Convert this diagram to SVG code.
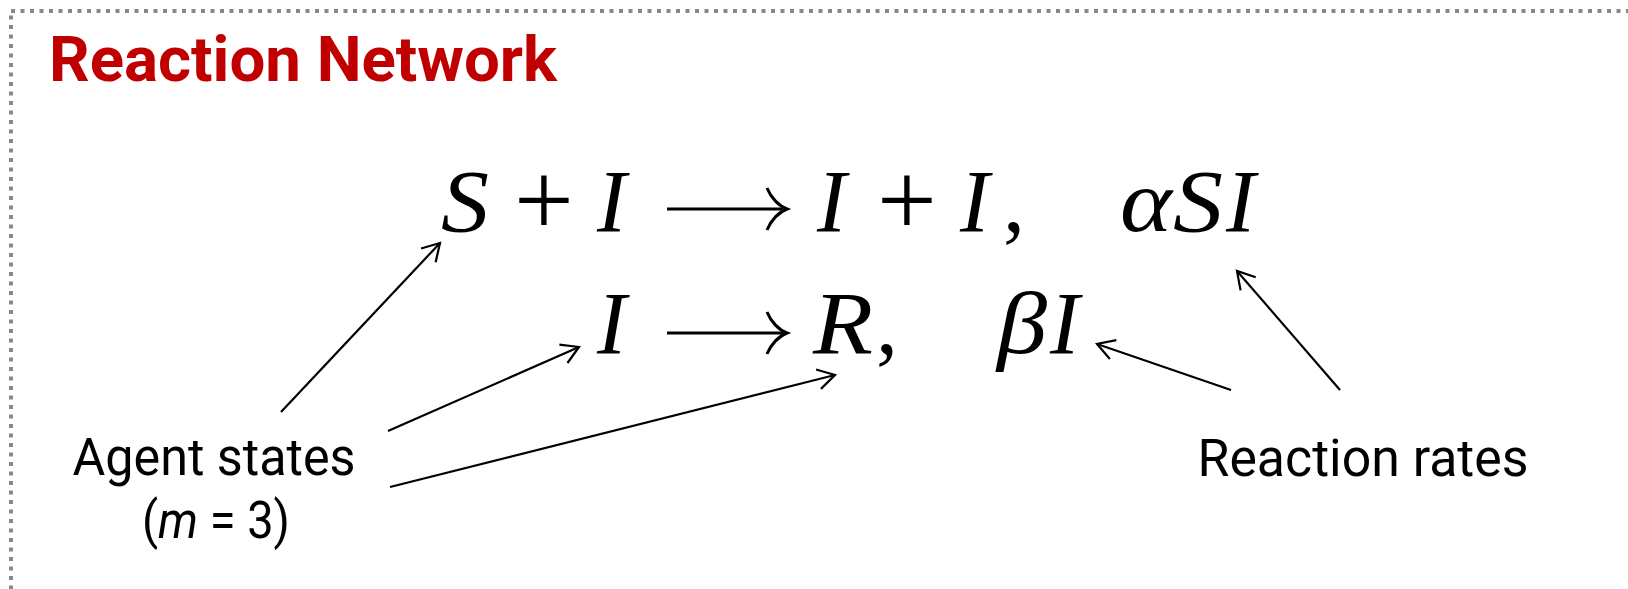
<svg xmlns="http://www.w3.org/2000/svg" width="1628" height="589" viewBox="0 0 1628 589">
  <style>
    .title { font-family: Roboto, "Liberation Sans", sans-serif; font-weight: 700; font-size: 63px; fill: #c00000; }
    .label { font-family: Roboto, "Liberation Sans", sans-serif; font-size: 51px; fill: #000; }
    .mi { font-family: "Liberation Serif", "DejaVu Serif", serif; font-style: italic; font-size: 88px; fill: #000; }
    .mo { font-family: "Liberation Serif", "DejaVu Serif", serif; font-size: 88px; fill: #000; }
    .plus { font-family: "Liberation Serif", "DejaVu Serif", serif; font-size: 106px; fill: #000; text-anchor: middle; }
    .conn { stroke: #000; stroke-width: 2.2; fill: none; }
    .larrow { stroke: #000; stroke-width: 3; fill: none; stroke-linecap: butt; }
  </style>
  <defs>
    <marker id="open" markerUnits="userSpaceOnUse" markerWidth="24" markerHeight="24" viewBox="-20 -12 24 24" refX="0" refY="0" orient="auto">
      <path d="M-17,-10 L0,0 L-17,10" fill="none" stroke="#000" stroke-width="2.2"/>
    </marker>
  </defs>

  <rect id="frame" x="11" y="11" width="1650" height="620" fill="none" stroke="#888" stroke-width="4" stroke-dasharray="4 5.5"/>

  <g id="title">
    <text class="title" x="49" y="81" textLength="508" lengthAdjust="spacingAndGlyphs">Reaction Network</text>
  </g>

  <g id="reaction1">
    <text class="mi" x="441" y="231" textLength="48" lengthAdjust="spacingAndGlyphs">S</text>
    <text class="plus" x="544" y="236">+</text>
    <text class="mi" x="597" y="231">I</text>
    <path class="larrow" d="M667,209 H785"/>
    <path class="larrow" d="M767,188 C771,198 779,206 787,209 C779,212 771,220 767,230"/>
    <text class="mi" x="817" y="231">I</text>
    <text class="plus" x="907" y="236">+</text>
    <text class="mi" x="960" y="231">I</text>
    <text class="mo" x="1003" y="231">,</text>
  </g>
  <g id="rate1">
    <text class="mi" x="1120" y="231" textLength="52" lengthAdjust="spacingAndGlyphs">α</text>
    <text class="mi" x="1173" y="231" textLength="50" lengthAdjust="spacingAndGlyphs">S</text>
    <text class="mi" x="1226" y="231">I</text>
  </g>

  <g id="reaction2">
    <text class="mi" x="597" y="353">I</text>
    <path class="larrow" d="M667,333 H785"/>
    <path class="larrow" d="M767,312 C771,322 779,330 787,333 C779,336 771,344 767,354"/>
    <text class="mi" x="813" y="353" textLength="60" lengthAdjust="spacingAndGlyphs">R</text>
    <text class="mo" x="876" y="353">,</text>
  </g>
  <g id="rate2">
    <text class="mi" x="997" y="353" textLength="50" lengthAdjust="spacingAndGlyphs">β</text>
    <text class="mi" x="1050" y="353">I</text>
  </g>

  <g id="agent-states">
    <text class="label" x="214" y="475" text-anchor="middle" textLength="283" lengthAdjust="spacingAndGlyphs">Agent states</text>
    <text class="label" x="216" y="538" text-anchor="middle" textLength="148" lengthAdjust="spacingAndGlyphs">(<tspan font-style="italic">m</tspan> = 3)</text>
  </g>

  <g id="reaction-rates">
    <text class="label" x="1363" y="476" text-anchor="middle" textLength="331" lengthAdjust="spacingAndGlyphs">Reaction rates</text>
  </g>

  <g id="connectors">
    <line class="conn" x1="281" y1="412" x2="440" y2="243" marker-end="url(#open)"/>
    <line class="conn" x1="388" y1="431" x2="579" y2="347" marker-end="url(#open)"/>
    <line class="conn" x1="390" y1="487" x2="835" y2="375" marker-end="url(#open)"/>
    <line class="conn" x1="1231" y1="390" x2="1097" y2="344" marker-end="url(#open)"/>
    <line class="conn" x1="1340" y1="390" x2="1237" y2="271" marker-end="url(#open)"/>
  </g>
</svg>
